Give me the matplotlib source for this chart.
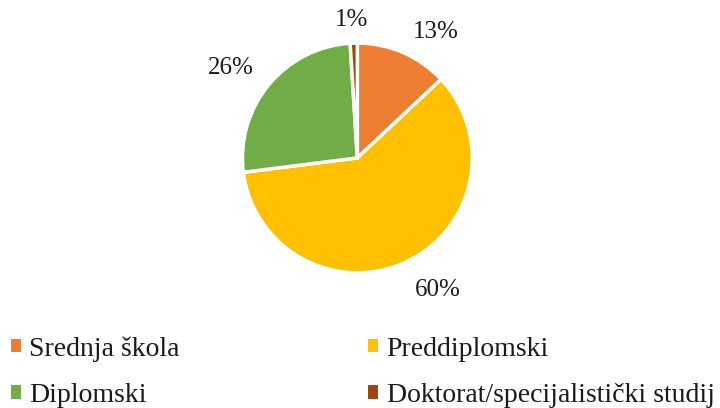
import matplotlib.pyplot as plt
from matplotlib.patches import Patch

# share of respondents by education level
labels = ['Srednja škola', 'Preddiplomski', 'Diplomski', 'Doktorat/specijalistički studij']
values = [13, 60, 26, 1]
colors = ['#ED7D31', '#FFC000', '#70AD47', '#9E480E']

# where the percentage labels sit (pie radius = 1)
label_pos = [(0.68, 1.10), (0.70, -1.15), (-1.10, 0.78), (-0.05, 1.20)]

plt.rcParams['font.family'] = ['Liberation Serif', 'DejaVu Serif']

fig = plt.figure(figsize=(7.2, 4.08), dpi=100)
ax = fig.add_axes([0.3368, 0.331, 0.319, 0.564])

wedges, texts, autotexts = ax.pie(values, colors=colors, startangle=90, counterclock=False,
                                  autopct='%1.0f%%', pctdistance=1.25,
                                  wedgeprops=dict(edgecolor='white', linewidth=2.5),
                                  textprops=dict(fontsize=18, color='#1a1a1a'))
for t, p in zip(autotexts, label_pos):
    t.set_position(p)
ax.set_xlim(-1, 1)
ax.set_ylim(-1, 1)
ax.set_aspect('equal')

#legend filled row-wise like the original
order = [0, 2, 1, 3]
handles = [Patch(facecolor=colors[i], edgecolor='none') for i in order]
fig.legend(handles, [labels[i] for i in order], ncol=2, loc='upper left',
           bbox_to_anchor=(0.0153, 0.176), frameon=False, fontsize=20,
           borderpad=0, borderaxespad=0,
           handlelength=0.36, handleheight=0.36, handletextpad=0.29,
           columnspacing=6.8, labelspacing=0.77, labelcolor='#1a1a1a')

fig.savefig('out.png', dpi=100)
